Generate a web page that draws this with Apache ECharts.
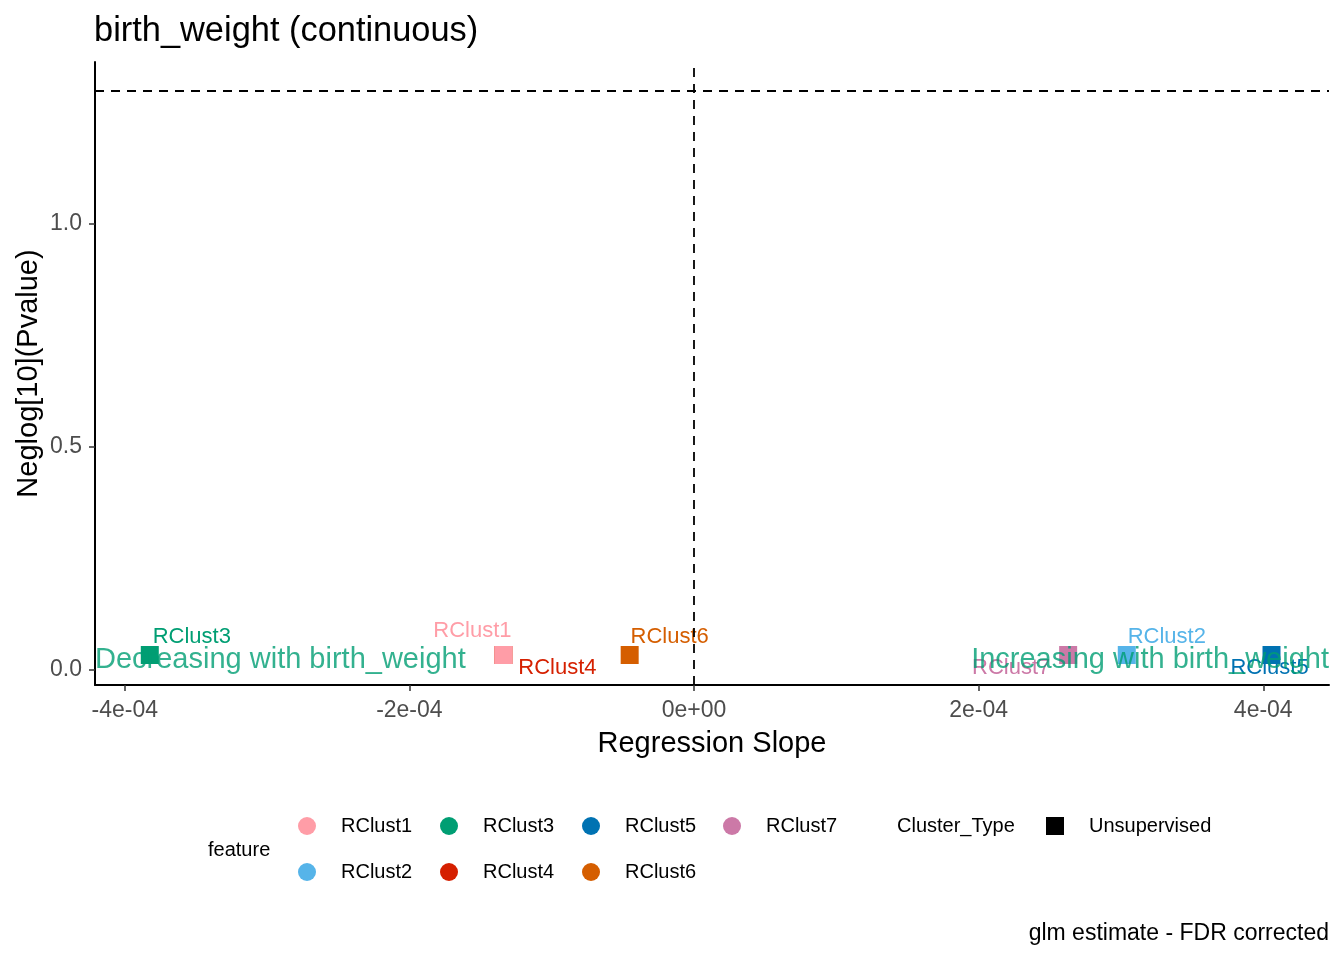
<!DOCTYPE html>
<html>
<head>
<meta charset="utf-8">
<script src="https://cdn.jsdelivr.net/npm/echarts@6/dist/echarts.min.js"></script>
<style>
html, body { margin: 0; padding: 0; background: #fff; }
#chart { width: 1344px; height: 960px; }
</style>
</head>
<body>
<div id="chart"></div>
<script>
// data
var features = ['RClust1', 'RClust2', 'RClust3', 'RClust4', 'RClust5', 'RClust6', 'RClust7'];
var slopes = [-1.339e-4, 3.041e-4, -3.824e-4, -1.339e-4, 4.058e-4, -4.52e-5, 2.629e-4];
var neglogP = [0.0325, 0.0325, 0.0325, 0.0325, 0.0325, 0.0325, 0.0325];
var featureColors = ['#FF9DA7', '#56B4E9', '#009E73', '#D52000', '#0072B2', '#D55E00', '#CC79A7'];
var clusterTypes = ['Unsupervised'];

var xTicks = [-4e-4, -2e-4, 0, 2e-4, 4e-4];
var xTickLabels = ['-4e-04', '-2e-04', '0e+00', '2e-04', '4e-04'];
var yTicks = [0, 0.5, 1.0];
var yTickLabels = ['0.0', '0.5', '1.0'];

var annotTexts = ['Decreasing with birth_weight', 'Increasing with birth_weight'];
var annotY = [0.022, 0.022];
var pThreshold = 1.30103; // -log10(0.05)

// legend columns (ggplot fills the feature legend by column)
var legendColumns = [['RClust1', 'RClust2'], ['RClust3', 'RClust4'], ['RClust5', 'RClust6'], ['RClust7']];

// axis range (ggplot expanded limits)
var xMin = -4.209e-4, xMax = 4.462e-4;
var yMin = -0.0348, yMax = 1.3636;

// repel label offsets in px (styling only)
var labelOffsets = [[-31, -24], [40, -18], [42, -18], [54, 13], [-2, 13], [40, -18], [-57, 13]];

var font = 'Liberation Sans, Arial, sans-serif';

var tickLabel = function (ticks, labels) {
    return function (v) {
        for (var i = 0; i < ticks.length; i++) {
            if (Math.abs(v - ticks[i]) < 1e-12) return labels[i];
        }
        return '';
    };
};

var series = [];
for (var i = 0; i < features.length; i++) {
    series.push({
        name: features[i],
        type: 'scatter',
        symbol: 'rect',
        symbolSize: 18,
        z: features[i] === 'RClust4' ? 1 : 2,
        itemStyle: { color: featureColors[i], opacity: 1 },
        label: {
            show: true,
            position: 'inside',
            offset: labelOffsets[i],
            formatter: features[i],
            color: featureColors[i],
            textBorderWidth: 0,
            fontFamily: font,
            fontSize: 22
        },
        emphasis: { disabled: true },
        data: [[slopes[i], neglogP[i]]]
    });
}

// reference lines
series[0].markLine = {
    silent: true,
    symbol: ['none', 'none'],
    label: { show: false },
    lineStyle: { color: '#000', width: 1.8, type: [9, 7] },
    data: [{ xAxis: 0 }, { yAxis: pThreshold }]
};

// shape legend entry
series.push({
    name: clusterTypes[0],
    type: 'scatter',
    symbol: 'rect',
    itemStyle: { color: '#000', opacity: 1 },
    data: []
});

// annotation texts at the panel edges
series.push({
    name: 'annot',
    type: 'scatter',
    symbolSize: 1,
    z: 5,
    silent: true,
    itemStyle: { color: 'transparent' },
    label: {
        show: true,
        position: 'inside',
        color: '#009E73',
        textBorderWidth: 0,
        fontFamily: font,
        fontSize: 29,
        formatter: function (p) { return annotTexts[p.dataIndex]; }
    },
    data: [
        { value: [xMin, annotY[0]], label: { align: 'left' } },
        { value: [xMax, annotY[1]], label: { align: 'right' } }
    ]
});

var legendText = { color: '#000', fontFamily: font, fontSize: 20, padding: [0, 0, 0, 20] };
var columnLeft = [293, 435, 577, 718];
var legends = [];
for (var c = 0; c < legendColumns.length; c++) {
    legends.push({
        orient: 'vertical',
        left: columnLeft[c],
        top: 811,
        icon: 'circle',
        itemWidth: 18,
        itemHeight: 18,
        itemGap: 26,
        selectedMode: false,
        textStyle: legendText,
        data: legendColumns[c]
    });
}
legends.push({
    orient: 'vertical',
    left: 1041,
    top: 811,
    icon: 'rect',
    itemWidth: 18,
    itemHeight: 18,
    selectedMode: false,
    itemStyle: { color: '#000', opacity: 1, borderWidth: 0 },
    textStyle: legendText,
    data: [{ name: clusterTypes[0], itemStyle: { color: '#000', opacity: 1 } }]
});

var option = {
    backgroundColor: '#fff',
    animation: false,
    title: {
        text: 'birth_weight (continuous)',
        left: 89,
        top: 10,
        textStyle: { color: '#000', fontFamily: font, fontSize: 34.4, fontWeight: 'normal' }
    },
    grid: { left: 95, right: 15, top: 62, bottom: 275 },
    xAxis: {
        type: 'value',
        min: xMin,
        max: xMax,
        name: 'Regression Slope',
        nameLocation: 'middle',
        nameGap: 44,
        nameTextStyle: { color: '#000', fontFamily: font, fontSize: 29 },
        axisLine: { show: true, onZero: false, lineStyle: { color: '#000', width: 2 } },
        axisTick: { show: true, length: 6, customValues: xTicks, lineStyle: { color: '#333', width: 1.5 } },
        axisLabel: {
            customValues: xTicks,
            margin: 14,
            color: '#4D4D4D',
            fontFamily: font,
            fontSize: 23,
            formatter: tickLabel(xTicks, xTickLabels)
        },
        splitLine: { show: false }
    },
    yAxis: {
        type: 'value',
        min: yMin,
        max: yMax,
        name: 'Neglog[10](Pvalue)',
        nameLocation: 'middle',
        nameGap: 52,
        nameMoveOverlap: false,
        nameTextStyle: { color: '#000', fontFamily: font, fontSize: 29 },
        axisLine: { show: true, onZero: false, lineStyle: { color: '#000', width: 2 } },
        axisTick: { show: true, length: 6, customValues: yTicks, lineStyle: { color: '#333', width: 1.5 } },
        axisLabel: {
            customValues: yTicks,
            margin: 13,
            color: '#4D4D4D',
            fontFamily: font,
            fontSize: 23,
            formatter: tickLabel(yTicks, yTickLabels)
        },
        splitLine: { show: false }
    },
    legend: legends,
    graphic: [
        { type: 'text', left: 208, top: 840, style: { text: 'feature', fill: '#000', font: '20px ' + font } },
        { type: 'text', left: 897, top: 816, style: { text: 'Cluster_Type', fill: '#000', font: '20px ' + font } },
        { type: 'text', right: 15, top: 922, style: { text: 'glm estimate - FDR corrected', fill: '#000', font: '23px ' + font } }
    ],
    series: series
};

var chart = echarts.init(document.getElementById('chart'), null, { renderer: 'canvas' });
chart.setOption(option);
</script>
</body>
</html>
